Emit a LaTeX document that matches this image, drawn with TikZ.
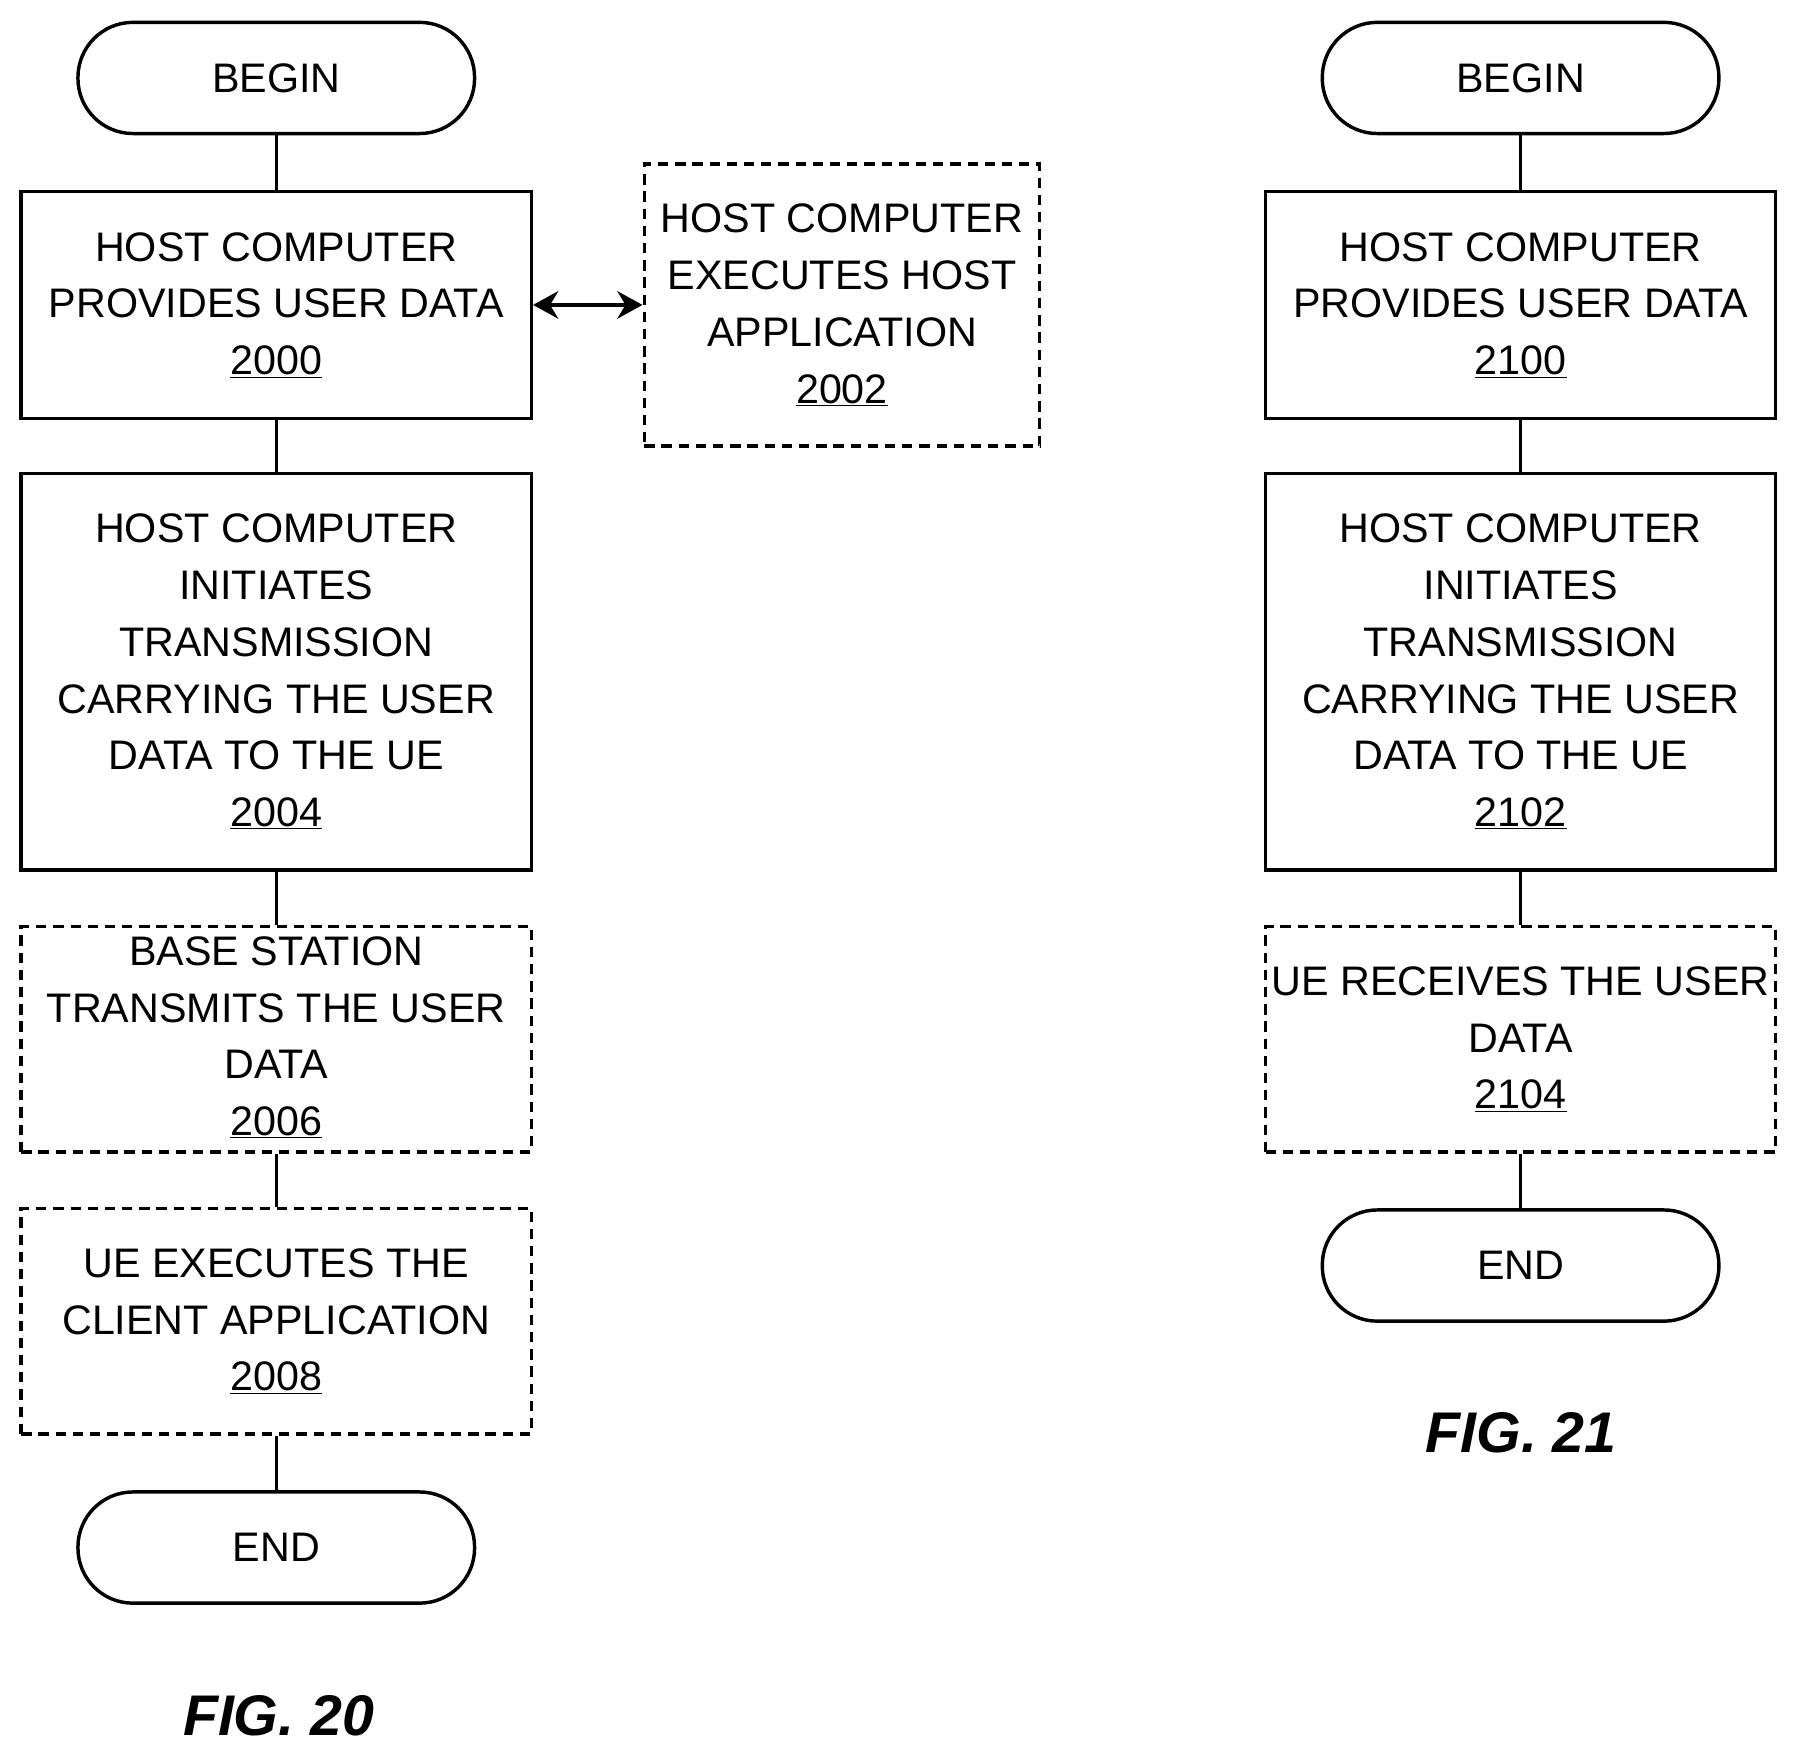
\documentclass[tikz,border=0pt]{standalone}
\usepackage{fontspec}
\setmainfont{Liberation Sans}
\usetikzlibrary{arrows.meta}
\begin{document}
\begin{tikzpicture}[x=1pt,y=-1pt,
  every node/.style={font=\fontsize{36}{49.5}\selectfont},
  box/.style={draw,line width=3pt,minimum width=445pt,align=center,inner sep=0pt},
  dbox/.style={box,dash pattern=on 9pt off 6pt},
  term/.style={draw,line width=3pt,rounded corners=48pt,minimum width=346pt,minimum height=97pt,inner sep=0pt},
  ln/.style={line width=3pt},
  fig/.style={font=\fontsize{50}{50}\bfseries\itshape\selectfont}]
\useasboundingbox (0,0) rectangle (1565,1530);
% FIG 20
\node[term] (b1) at (241,68) {BEGIN};
\node[box,minimum height=198pt] (n2000) at (241,266) {HOST COMPUTER\\PROVIDES USER DATA\\\underline{2000}};
\node[dbox,minimum width=345pt,minimum height=246pt] (n2002) at (734.5,266) {HOST COMPUTER\\EXECUTES HOST\\APPLICATION\\\underline{2002}};
\node[box,minimum height=346pt] (n2004) at (241,586) {HOST COMPUTER\\INITIATES\\TRANSMISSION\\CARRYING THE USER\\DATA TO THE UE\\\underline{2004}};
\node[dbox,minimum height=197pt] (n2006) at (241,906.5) {};
\node[align=center] (t2006) at (241,905) {BASE STATION\\TRANSMITS THE USER\\DATA\\\underline{2006}};
\node[dbox,minimum height=197pt] (n2008) at (241,1152.5) {UE EXECUTES THE\\CLIENT APPLICATION\\\underline{2008}};
\node[term] (e1) at (241,1350) {END};
\node[fig] (f20) at (243,1497) {FIG. 20};
\draw[ln] (b1)--(n2000); \draw[ln] (n2000)--(n2004); \draw[ln] (n2004)--(n2006);
\draw[ln] (n2006)--(n2008); \draw[ln] (n2008)--(e1);
\draw[ln,{Stealth[length=22pt,width=24pt]}-{Stealth[length=22pt,width=24pt]}] (n2000.east)--(n2002.west);
% FIG 21
\node[term] (b2) at (1326.5,68) {BEGIN};
\node[box,minimum height=198pt] (n2100) at (1326.5,266) {HOST COMPUTER\\PROVIDES USER DATA\\\underline{2100}};
\node[box,minimum height=346pt] (n2102) at (1326.5,586) {HOST COMPUTER\\INITIATES\\TRANSMISSION\\CARRYING THE USER\\DATA TO THE UE\\\underline{2102}};
\node[dbox,minimum height=197pt] (n2104) at (1326.5,906.5) {UE RECEIVES THE USER\\DATA\\\underline{2104}};
\node[term] (e2) at (1326.5,1104) {END};
\node[fig] (f21) at (1327,1250) {FIG. 21};
\draw[ln] (b2)--(n2100); \draw[ln] (n2100)--(n2102); \draw[ln] (n2102)--(n2104); \draw[ln] (n2104)--(e2);
\end{tikzpicture}
\end{document}
